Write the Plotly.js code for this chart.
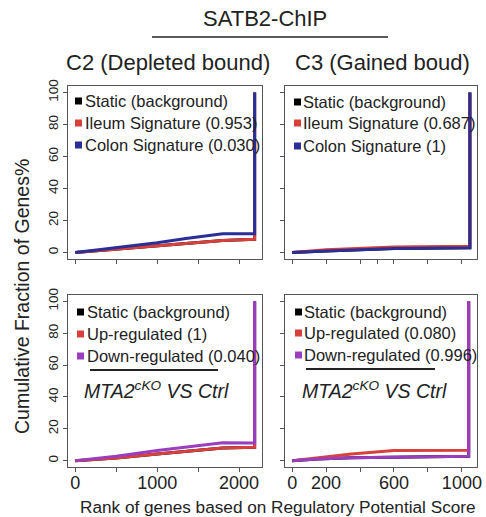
<!DOCTYPE html>
<html>
<head>
<meta charset="utf-8">
<script src="https://cdn.plot.ly/plotly-3.0.1.min.js"></script>
<style>html,body{margin:0;padding:0;background:#fff;}#chart{width:486px;height:517px;}</style>
</head>
<body>
<div id="chart"></div>
<script>
// ---------- data ----------
// C2 (Depleted bound), SATB2-ChIP signatures
const rankC2chip   = [0, 500, 1000, 1350, 1800, 2190, 2190];
const staticC2chip = [0, 2.2, 4.3, 5.6, 7.6, 8.3, 100];
const ileumC2      = [0, 2.2, 4.3, 5.6, 7.6, 8.3, 100];
const colonC2      = [0, 3.0, 6.2, 8.8, 11.7, 11.7, 100];
// C3 (Gained boud), SATB2-ChIP signatures
const rankC3chip   = [0, 200, 600, 1047, 1047];
const staticC3chip = [0, 1.0, 2.5, 3.0, 100];
const ileumC3      = [0, 1.7, 3.5, 4.0, 100];
const colonC3      = [0, 1.0, 2.5, 3.0, 100];
// C2, MTA2 cKO vs Ctrl
const rankC2rna    = [0, 500, 1000, 1500, 1800, 2190, 2190];
const staticC2rna  = [0, 1.7, 4.2, 6.3, 8.0, 8.4, 100];
const upC2         = [0, 1.7, 4.2, 6.3, 8.0, 8.4, 100];
const downC2       = [0, 2.7, 6.3, 9.1, 11.2, 11.0, 100];
// C3, MTA2 cKO vs Ctrl
const rankC3rna    = [0, 150, 350, 600, 1040, 1040];
const staticC3rna  = [0, 1.0, 1.8, 2.1, 2.7, 100];
const upC3         = [0, 1.7, 4.2, 6.3, 6.5, 100];
const downC3       = [0, 1.0, 1.8, 2.1, 2.7, 100];

const legendChipC2 = ["Static (background)", "Ileum Signature (0.953)", "Colon Signature (0.030)"];
const legendChipC3 = ["Static (background)", "Ileum Signature (0.687)", "Colon Signature (1)"];
const legendRnaC2  = ["Static (background)", "Up-regulated (1)", "Down-regulated (0.040)"];
const legendRnaC3  = ["Static (background)", "Up-regulated (0.080)", "Down-regulated (0.996)"];

const xLabelsLeft  = [0, 1000, 2000];      // labelled ticks
const xStepLeft    = 500;                  // unlabelled tick spacing
const xLabelsRight = [0, 200, 600, 1000];
const xStepRight   = 200;
const yTicks = [0, 20, 40, 60, 80, 100];

// ---------- styling ----------
const BLACK = "#000000", RED = "#d8403c", BLUE = "#2a2e96", PURPLE = "#9a3dbf";
const FONT = 'Arial, "Liberation Sans", sans-serif';
const W = 486, H = 517;
const X = p => p / W, Y = p => 1 - p / H;

function tr(x, y, color, xa, ya, name) {
  return {x: x, y: y, type: "scatter", mode: "lines", name: name, xaxis: xa, yaxis: ya,
          line: {color: color, width: 3}, showlegend: false, hoverinfo: "skip"};
}
const data = [
  tr(rankC2chip, staticC2chip, BLACK, "x", "y", legendChipC2[0]),
  tr(rankC2chip, ileumC2, RED, "x", "y", legendChipC2[1]),
  tr(rankC2chip, colonC2, BLUE, "x", "y", legendChipC2[2]),
  tr(rankC3chip, staticC3chip, BLACK, "x2", "y2", legendChipC3[0]),
  tr(rankC3chip, ileumC3, RED, "x2", "y2", legendChipC3[1]),
  tr(rankC3chip, colonC3, BLUE, "x2", "y2", legendChipC3[2]),
  tr(rankC2rna, staticC2rna, BLACK, "x3", "y3", legendRnaC2[0]),
  tr(rankC2rna, upC2, RED, "x3", "y3", legendRnaC2[1]),
  tr(rankC2rna, downC2, PURPLE, "x3", "y3", legendRnaC2[2]),
  tr(rankC3rna, staticC3rna, BLACK, "x4", "y4", legendRnaC3[0]),
  tr(rankC3rna, upC3, RED, "x4", "y4", legendRnaC3[1]),
  tr(rankC3rna, downC3, PURPLE, "x4", "y4", legendRnaC3[2])
];

const axBase = {showgrid: false, zeroline: false, showline: true, mirror: true,
  linecolor: "#555", linewidth: 1, ticks: "outside", ticklen: 4, tickcolor: "#555",
  automargin: false, fixedrange: true};

const LX = [X(68), X(262)], RX = [X(285), X(477)];
const TY = [Y(259), Y(86)], BY = [Y(467), Y(295)];

function xax(domain, anchor, range, vals, step, showLabels) {
  return Object.assign({}, axBase, {domain: domain, anchor: anchor, range: range,
    tickmode: "array", tickvals: showLabels ? vals : undefined, showticklabels: showLabels,
    dtick: showLabels ? undefined : step, tick0: 0,
    ticklabelstandoff: -5,
    minor: {tick0: 0, dtick: step, ticks: "outside", ticklen: 4, tickcolor: "#555", showgrid: false},
    tickfont: {family: FONT, size: 18, color: "#222"}});
}
function yax(domain, anchor, showLabels) {
  return Object.assign({}, axBase, {domain: domain, anchor: anchor, range: [-4, 104],
    tickmode: "array", tickvals: yTicks, showticklabels: showLabels, tickangle: -90,
    tickfont: {family: FONT, size: 13.5, color: "#222"}});
}

const annotations = [], shapes = [];
function txt(text, x, y, size, opts) {
  annotations.push(Object.assign({text: text, x: X(x), y: Y(y), xref: "paper", yref: "paper",
    showarrow: false, xanchor: "center", yanchor: "middle",
    font: {family: FONT, size: size, color: "#222"}}, opts || {}));
}
// titles
txt("SATB2-ChIP", 265, 18, 22);
shapes.push({type: "line", xref: "paper", yref: "paper", x0: X(152), x1: X(388), y0: Y(37), y1: Y(37),
  line: {color: "#222", width: 1.5}});
txt("C2 (Depleted bound)", 168, 62, 22);
txt("C3 (Gained boud)", 382, 62, 22);
txt("Cumulative Fraction of Genes%", 22, 297, 19.5, {textangle: -90});
txt("Rank of genes based on Regulatory Potential Score", 278, 507, 17.2);

// legends
function legend(labels, colors, sqx, textx, rows) {
  labels.forEach((lab, i) => {
    shapes.push({type: "rect", xref: "paper", yref: "paper", x0: X(sqx), x1: X(sqx + 7),
      y0: Y(rows[i] + 3.5), y1: Y(rows[i] - 3.5), fillcolor: colors[i], line: {width: 0}});
    txt(lab, textx, rows[i], 16.5, {xanchor: "left"});
  });
}
legend(legendChipC2, [BLACK, RED, BLUE], 75, 83, [101, 123, 145]);
legend(legendChipC3, [BLACK, RED, BLUE], 294, 301, [102, 123, 146]);
legend(legendRnaC2, [BLACK, RED, PURPLE], 77, 85, [312, 334, 356]);
legend(legendRnaC3, [BLACK, RED, PURPLE], 295, 302, [312, 333, 355]);

// MTA2 cKO vs Ctrl labels
shapes.push({type: "line", xref: "paper", yref: "paper", x0: X(90), x1: X(218), y0: Y(370), y1: Y(370),
  line: {color: "#222", width: 2}});
shapes.push({type: "line", xref: "paper", yref: "paper", x0: X(306), x1: X(435), y0: Y(369), y1: Y(369),
  line: {color: "#222", width: 2}});
txt("<i>MTA2<sup>cKO</sup> VS Ctrl</i>", 156, 390, 19.5);
txt("<i>MTA2<sup>cKO</sup> VS Ctrl</i>", 374, 390, 19.5);

const layout = {
  width: W, height: H, margin: {l: 0, r: 0, t: 0, b: 0},
  paper_bgcolor: "#fff", plot_bgcolor: "#fff", showlegend: false,
  xaxis:  xax(LX, "y",  [-90, 2280], xLabelsLeft, xStepLeft, false),
  yaxis:  yax(TY, "x", true),
  xaxis2: xax(RX, "y2", [-42, 1089], xLabelsRight, xStepRight, false),
  yaxis2: yax(TY, "x2", false),
  xaxis3: xax(LX, "y3", [-90, 2280], xLabelsLeft, xStepLeft, true),
  yaxis3: yax(BY, "x3", true),
  xaxis4: xax(RX, "y4", [-42, 1089], xLabelsRight, xStepRight, true),
  yaxis4: yax(BY, "x4", false),
  annotations: annotations, shapes: shapes
};
Plotly.newPlot("chart", data, layout, {displayModeBar: false, staticPlot: true});
</script>
</body>
</html>
